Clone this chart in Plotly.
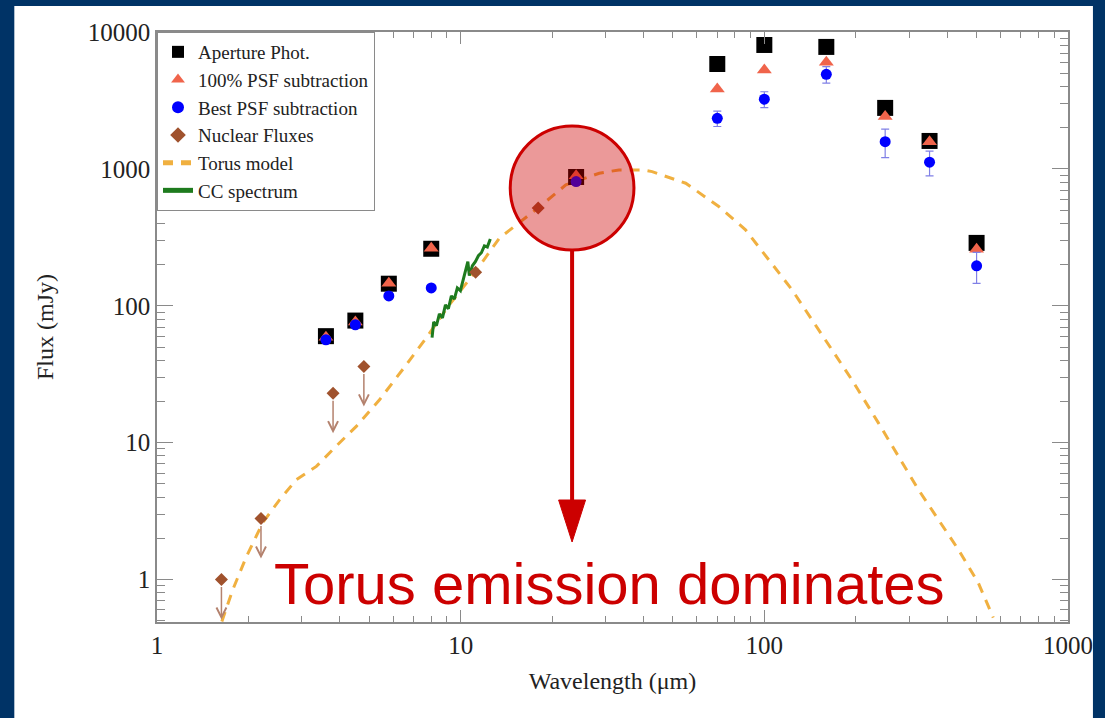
import math
import plotly.graph_objects as go

# ---------------- data ----------------
wl_phot = [3.6, 4.5, 5.8, 8.0, 24, 70, 100, 160, 250, 350, 500]
flux_aperture = [60, 78, 145, 261, 873, 5840, 8040, 7780, 2790, 1600, 288]
flux_psf100 = [59, 76, 146, 263, 890, 3840, 5280, 6010, 2410, 1580, 259]
flux_bestpsf = [56.5, 72.7, 118, 135, 808, 2340, 3230, 4910, 1580, 1120, 196]
err_bestpsf = [0, 0, 0, 0, 0, 300, 430, 680, 370, 230, 50]

wl_nuclear = [1.63, 2.2, 3.8, 4.8, 11.2, 18.0]
flux_nuclear = [1.0, 2.79, 23, 36, 176, 517]
upper_limit = [True, True, True, True, False, False]

wl_torus = [1.635, 1.777, 1.972, 2.230, 2.536, 2.877, 3.348, 3.787, 4.532, 5.405,
            6.433, 7.696, 9.18, 11.24, 13.41, 14.79, 18.0, 22.2, 28.6, 33.2,
            39.6, 42.7, 55.1, 70.8, 86.7, 103.4, 123.3, 143.5, 167.0, 194.2,
            237.7, 276.5, 321.7, 374.3, 435.5, 506.5, 567.4]
flux_torus = [0.494, 0.845, 1.480, 2.607, 3.837, 5.37, 6.71, 8.89, 13.15, 20.6,
              34.1, 58.1, 101.7, 180, 312, 368, 519, 764, 930, 983,
              983, 955, 786, 531, 359, 217, 131, 79.1, 47.7, 28.8,
              13.9, 7.94, 4.54, 2.74, 1.656, 0.946, 0.528]

wl_cc = [8.05, 8.15, 8.32, 8.51, 8.71, 8.91, 9.11, 9.32, 9.53, 9.75, 9.98,
         10.2, 10.44, 10.56, 10.68, 10.93, 11.18, 11.44, 11.7, 11.97, 12.24, 12.52]
flux_cc = [58.5, 76.4, 71.5, 87.4, 81.7, 101.7, 95.1, 118, 112, 135, 129,
           155, 183, 210, 166, 196, 210, 232, 244, 274, 269, 308]

x_ticks = [1, 10, 100, 1000]
y_ticks = [1, 10, 100, 1000, 10000]

annotation_text = "Torus emission dominates"

# ---------------- styling ----------------
W, H = 1105, 718
ML, MR, MT, MB = 157, 35, 32, 96
PW, PH = W - ML - MR, H - MT - MB
AXC = "#8a8a8a"
SERIF = "Liberation Serif, Times New Roman, serif"
RED = "#cc0000"


def px(xp):
    return (xp - ML) / PW


def py(yp):
    return (H - MB - yp) / PH


fig = go.Figure()

fig.add_trace(go.Scatter(
    x=wl_torus, y=flux_torus, mode="lines", name="Torus model",
    line=dict(color="#f0b040", width=3, dash="10px,8px"), legendrank=5))
fig.add_trace(go.Scatter(
    x=wl_cc, y=flux_cc, mode="lines", name="CC spectrum",
    line=dict(color="#1e7b1e", width=3), legendrank=6))
fig.add_trace(go.Scatter(
    x=wl_phot, y=flux_aperture, mode="markers", name="Aperture Phot.",
    marker=dict(symbol="square", size=16, color="black"), legendrank=1))
fig.add_trace(go.Scatter(
    x=wl_phot, y=flux_psf100, mode="markers", name="100% PSF subtraction",
    marker=dict(symbol="triangle-up", size=13, color="#f0644b"), legendrank=2))
fig.add_trace(go.Scatter(
    x=wl_phot, y=flux_bestpsf, mode="markers", name="Best PSF subtraction",
    marker=dict(symbol="circle", size=11, color="#0000ff"),
    error_y=dict(type="data", array=err_bestpsf, color="#8080e6",
                 thickness=1.2, width=4),
    legendrank=3))
fig.add_trace(go.Scatter(
    x=wl_nuclear, y=flux_nuclear, mode="markers", name="Nuclear Fluxes",
    marker=dict(symbol="diamond", size=10, color="#a0522d"), legendrank=4))

annotations = []
for w, f, lim in zip(wl_nuclear, flux_nuclear, upper_limit):
    if lim:
        annotations.append(dict(
            x=math.log10(w), y=math.log10(f), xref="x", yref="y", text="",
            showarrow=True, ax=0, ay=-40, yshift=-40, arrowhead=5,
            arrowsize=1.3, arrowwidth=1.5, arrowcolor="#b4826e",
            startstandoff=6, standoff=0))

annotations.append(dict(
    x=px(610), y=py(583), xref="paper", yref="paper", text=annotation_text,
    showarrow=False, xanchor="center", yanchor="middle",
    font=dict(family="Liberation Sans, Arial, sans-serif", size=58, color=RED)))

shapes = [
    # white page on the dark-blue frame
    dict(type="rect", xref="paper", yref="paper", x0=px(14), x1=px(1095),
         y0=py(H + 5), y1=py(6), fillcolor="white", line=dict(width=0),
         layer="below"),
    # highlight circle
    dict(type="circle", xref="paper", yref="paper", x0=px(511), x1=px(635),
         y0=py(250), y1=py(126), fillcolor="rgba(204,0,0,0.4)",
         line=dict(color=RED, width=3), layer="above"),
    # arrow shaft
    dict(type="line", xref="paper", yref="paper", x0=px(573), x1=px(573),
         y0=py(251), y1=py(502), line=dict(color=RED, width=4), layer="above"),
    # arrow head
    dict(type="path", xref="paper", yref="paper",
         path=f"M {px(559.5)},{py(500)} L {px(586.5)},{py(500)} L {px(573)},{py(542)} Z",
         fillcolor=RED, line=dict(color=RED, width=1), layer="above"),
]

minor_x = [m * 10 ** d for d in range(0, 3) for m in range(2, 10)]
minor_y = [m * 10 ** d for d in range(-1, 4) for m in range(2, 10)]

axis_common = dict(
    type="log", showgrid=False, zeroline=False, showline=True,
    linecolor=AXC, linewidth=1.5, mirror="ticks", ticks="inside",
    tickcolor=AXC, tickwidth=1,
    tickfont=dict(family=SERIF, size=25, color="#222222"),
)

fig.update_layout(
    width=W, height=H,
    margin=dict(l=ML, r=MR, t=MT, b=MB, pad=0),
    paper_bgcolor="#003366", plot_bgcolor="white",
    xaxis=dict(**axis_common, range=[0, 3], ticklen=12,
               tickvals=x_ticks, ticktext=[str(v) for v in x_ticks],
               minor=dict(ticks="inside", ticklen=6, tickcolor=AXC,
                          tickvals=minor_x, showgrid=False),
               title=dict(text="Wavelength (μm)", standoff=14,
                          font=dict(family=SERIF, size=24, color="#222222"))),
    yaxis=dict(**axis_common, range=[math.log10(0.49), 4], ticklen=16,
               tickvals=y_ticks, ticktext=[str(v) for v in y_ticks],
               minor=dict(ticks="inside", ticklen=8, tickcolor=AXC,
                          tickvals=minor_y, showgrid=False),
               title=dict(text="Flux (mJy)", standoff=27,
                          font=dict(family=SERIF, size=24, color="#222222"))),
    legend=dict(x=0, y=1, xanchor="left", yanchor="top",
                bgcolor="white", bordercolor=AXC, borderwidth=1,
                font=dict(family=SERIF, size=19, color="#222222"),
                itemsizing="constant", tracegroupgap=0),
    showlegend=True,
    annotations=annotations,
    shapes=shapes,
)

fig.write_html("out.html")
